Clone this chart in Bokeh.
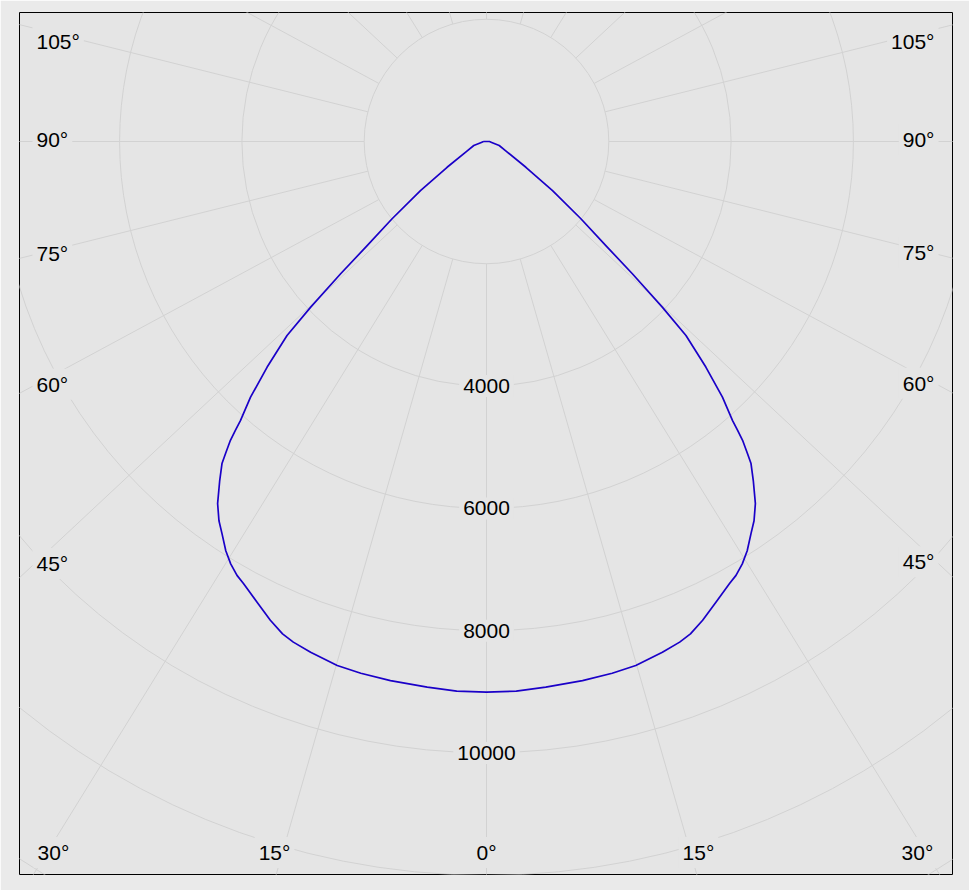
import numpy as np
from bokeh.plotting import figure
from bokeh.models import Range1d, ColumnDataSource
from bokeh.core.properties import value
from bokeh.embed import file_html
from bokeh.resources import INLINE

# ---------------- data ----------------
CURVE_ANGLES = [0, 3.1, 6.2, 10.1, 13.3, 15.9, 19.0, 21.1, 22.5, 24.3, 26.5, 28.8,
                29.9, 31.2, 32.5, 34.0, 35.2, 36.6, 38.2, 39.4, 39.9, 40.6, 41.0,
                41.4, 42.7, 44.2, 45.8, 46.7, 47.8, 48.9, 50.7, 53.4, 56.8, 64.1,
                72.5, 80, 90]
CURVE_CD = [9005, 9000, 8975, 8955, 8935, 8910, 8835, 8775, 8715, 8590, 8415, 8250,
            8185, 8075, 7935, 7735, 7590, 7375, 7055, 6815, 6655, 6435, 6260,
            6085, 5690, 5145, 4550, 3955, 3220, 2590, 1995, 1345, 770, 350,
            218, 86, 49]
RING_VALUES = [2000, 4000, 6000, 8000, 10000, 12000, 14000]
RING_LABEL_VALUES = [4000, 6000, 8000, 10000]
RING_LABELS = ["4000", "6000", "8000", "10000"]
SPOKE_ANGLES = list(range(0, 360, 15))
ANGLE_LABEL_VALUES = [0, 15, 30, 45, 60, 75, 90, 105]

# ---------------- layout constants ----------------
PX = 0.06115          # pixels per cd
K = 0.934             # vertical squeeze of the spoke directions in the original
W, H = 969, 890
BL, BR, BT, BB = 19, 17, 12, 16
CX, CY = 486, 141                  # centre inside the canvas
FL, FR, FT, FB = BL, W - BR, BT, H - BB
PLOT_BG = "#e5e5e5"
PAGE_BG = "#eaeaea"
GRID = "#d2d2d2"
FONT = value("Liberation Sans")
FS = "21px"

p = figure(width=W, height=H, output_backend="svg", toolbar_location=None,
           x_axis_type=None, y_axis_type=None,
           x_range=Range1d(-(CX - FL) / PX, (FR - CX) / PX),
           y_range=Range1d(-(FB - CY) / PX, (CY - FT) / PX),
           min_border_left=BL, min_border_right=BR,
           min_border_top=BT, min_border_bottom=BB,
           background_fill_color=PLOT_BG, border_fill_color=PAGE_BG,
           outline_line_color="black", outline_line_width=1)

# rings
p.circle(x=[0] * len(RING_VALUES), y=[0] * len(RING_VALUES), radius=RING_VALUES,
         fill_color=None, line_color=GRID, line_width=1)

# spokes
a = np.radians(SPOKE_ANGLES)
dx, dy = np.sin(a), -K * np.cos(a)
n = np.hypot(dx, dy)
dx, dy = dx / n, dy / n
r0, r1 = RING_VALUES[0], 20000
p.segment(x0=r0 * dx, y0=r0 * dy, x1=r1 * dx, y1=r1 * dy, line_color=GRID, line_width=1)

# ring labels
p.text(x=[0] * len(RING_LABEL_VALUES), y=[-v for v in RING_LABEL_VALUES], text=RING_LABELS,
       text_align="center", text_baseline="middle", text_font=FONT, text_font_size=FS,
       text_color="black", background_fill_color=PLOT_BG, padding=4)

# angle labels
XL, XR, YB, YTOP = 32 - CX, 938 - CX, 852 - CY, 40.5 - CY
groups = {"left": ([], [], []), "right": ([], [], []), "center": ([], [], [])}
for ang in ANGLE_LABEL_VALUES:
    for side in ((1,) if ang == 0 else (-1, 1)):
        t = np.radians(ang)
        sx, sy = side * np.sin(t), K * np.cos(t)
        t_side = (abs(XL) if side < 0 else XR) / abs(sx) if sx != 0 else np.inf
        t_bot = YB / sy if sy > 0 else np.inf
        txt = f"{ang}°"
        if t_bot < t_side:
            xr = sx * t_bot + (side * 8 if ang else 0)
            xr = min(max(xr, XL + 21), XR - 21)
            yr = YB
            key = "center"
        else:
            xr = XL if side < 0 else XR
            yr = max(sy * t_side - 2, YTOP)
            key = "left" if side < 0 else "right"
        groups[key][0].append(xr / PX)
        groups[key][1].append(-yr / PX)
        groups[key][2].append(txt)
for align, (xs, ys, ts) in groups.items():
    p.text(x=xs, y=ys, text=ts, text_align=align, text_baseline="middle",
           text_font=FONT, text_font_size=FS, text_color="black",
           background_fill_color=PLOT_BG, padding=4)

# intensity curve (symmetric, closed over the top)
ang_full = [-v for v in CURVE_ANGLES[::-1]] + CURVE_ANGLES[1:]
cd_full = CURVE_CD[::-1] + CURVE_CD[1:]
th = np.radians(ang_full)
xs = np.array(cd_full) * np.sin(th)
ys = -np.array(cd_full) * np.cos(th)
xs = np.append(xs, xs[0])
ys = np.append(ys, ys[0])
src = ColumnDataSource(dict(x=xs, y=ys))
p.line("x", "y", source=src, line_color="#1a00c8", line_width=1.7, line_join="round")

html = file_html(p, INLINE)
html = html.replace("<body>", f'<body style="margin:0;background-color:{PAGE_BG};">', 1)
open("out.html", "w").write(html)
